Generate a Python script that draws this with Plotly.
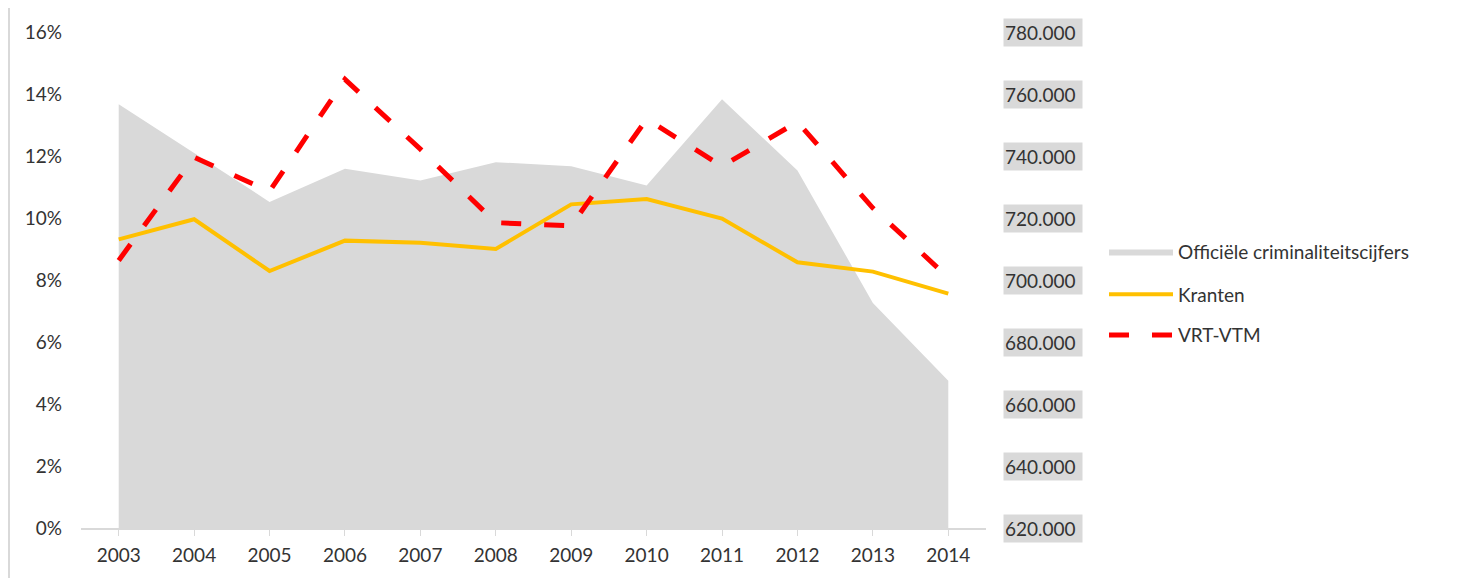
import plotly.graph_objects as go

years = ["2003", "2004", "2005", "2006", "2007", "2008", "2009", "2010", "2011", "2012", "2013", "2014"]
officieel = [756700, 741000, 725200, 735900, 732100, 738000, 736700, 730500, 758300, 735300, 692600, 667500]
kranten = [0.0931, 0.0996, 0.0829, 0.0927, 0.0920, 0.0900, 0.1044, 0.1061, 0.0998, 0.0857, 0.0827, 0.0756]
vrt_vtm = [0.0863, 0.1196, 0.1086, 0.1447, 0.1222, 0.0985, 0.0975, 0.1319, 0.1167, 0.1310, 0.1032, 0.0808]
right_ticks = [620000, 640000, 660000, 680000, 700000, 720000, 740000, 760000, 780000]
left_ticks = [0, 0.02, 0.04, 0.06, 0.08, 0.10, 0.12, 0.14, 0.16]

FONT = "Lato"
TXT = "#333333"
FS = 19
OFF = 8  # page body margin
W, H = 1464, 578
L, T = 81 - OFF, 29 - OFF
R = W - (986 - OFF)
B = H - (528 - OFF)
PW = W - L - R
PH = H - T - B

fig = go.Figure()
fig.add_trace(go.Scatter(
    x=years, y=officieel, name="Officiële criminaliteitscijfers",
    mode="lines", line=dict(width=0, color="#D9D9D9"),
    fill="tozeroy", fillcolor="#D9D9D9", yaxis="y", legend="legend"))
fig.add_trace(go.Scatter(
    x=years, y=kranten, name="Kranten", mode="lines",
    line=dict(color="#FFC000", width=4), yaxis="y2", legend="legend2"))
fig.add_trace(go.Scatter(
    x=years, y=vrt_vtm, name="VRT-VTM", mode="lines",
    line=dict(color="#FF0000", width=5, dash="20px,23px"), yaxis="y2", legend="legend3"))

def lg(ypix):
    return dict(x=(1104 - OFF - L) / PW, xanchor="left", y=(528 - ypix) / PH, yanchor="middle",
                font=dict(family=FONT, size=FS, color=TXT), bgcolor="rgba(0,0,0,0)",
                itemwidth=64)

fig.update_layout(
    width=W, height=H,
    margin=dict(l=L, r=R, t=T, b=B),
    paper_bgcolor="white", plot_bgcolor="white",
    font=dict(family=FONT, size=FS, color=TXT),
    xaxis=dict(type="category", range=[-0.5, 11.5], showgrid=False,
               showline=True, linecolor="#D9D9D9", linewidth=1.5,
               ticks="outside", ticklen=6, tickcolor="#D9D9D9",
               tickfont=dict(family=FONT, size=FS, color=TXT), ticklabelstandoff=3),
    yaxis=dict(range=[620000, 780000], side="right", showgrid=False, showticklabels=False,
               zeroline=False, showline=False, tickvals=right_ticks),
    yaxis2=dict(range=[0, 0.16], overlaying="y", side="left", showgrid=False,
                zeroline=False, showline=False, tickvals=left_ticks, tickformat=".0%",
                tickfont=dict(family=FONT, size=FS, color=TXT), ticklabelstandoff=18),
    legend=lg(250), legend2=lg(293), legend3=lg(334),
    showlegend=True,
)

for v in right_ticks:
    fig.add_annotation(
        x=1, xref="paper", xanchor="left", xshift=17,
        y=v, yref="y", yanchor="middle",
        text=f"{v:,}".replace(",", "."), showarrow=False,
        font=dict(family=FONT, size=FS, color=TXT),
        bgcolor="#D9D9D9", width=76, height=25, align="left")

# outer chart frame (left and right edges)
for px in (OFF + 1, 1459):
    xp = (px - OFF - L) / PW
    fig.add_shape(type="line", xref="paper", yref="paper",
                  x0=xp, x1=xp, y0=-B / PH - 0.05, y1=1 + T / PH + 0.05,
                  line=dict(color="#D9D9D9", width=2))

fig.write_html("out.html")
